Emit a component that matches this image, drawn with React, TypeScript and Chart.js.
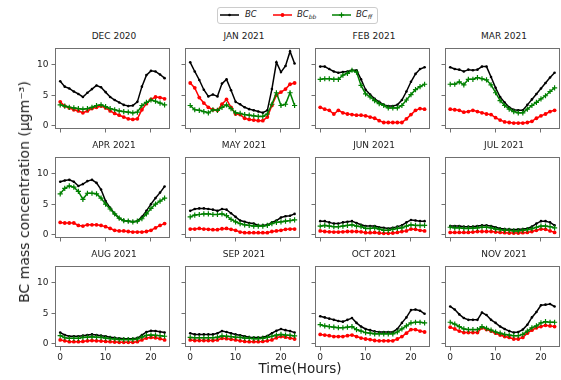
import React, { useEffect, useRef } from 'react';
import { Chart, registerables } from 'chart.js';
Chart.register(...registerables);

const HOURS = [0, 1, 2, 3, 4, 5, 6, 7, 8, 9, 10, 11, 12, 13, 14, 15, 16, 17, 18, 19, 20, 21, 22, 23];
const X_TICKS = [0, 10, 20];
const Y_TICKS = [0, 5, 10];
const MONTHS = ['DEC 2020', 'JAN 2021', 'FEB 2021', 'MAR 2021', 'APR 2021', 'MAY 2021', 'JUN 2021', 'JUL 2021', 'AUG 2021', 'SEP 2021', 'OCT 2021', 'NOV 2021'];

const DEC_BC = [7.3, 6.4, 6.1, 5.6, 5.2, 4.7, 5.4, 6.0, 6.6, 6.3, 5.5, 4.7, 4.2, 3.8, 3.4, 3.2, 3.3, 3.9, 6.4, 8.3, 9.0, 8.9, 8.4, 7.8];
const DEC_BB = [3.9, 3.2, 2.9, 2.6, 2.4, 2.1, 2.4, 2.8, 3.0, 3.2, 2.9, 2.4, 2.0, 1.7, 1.4, 1.1, 1.0, 1.1, 2.6, 3.6, 4.3, 4.7, 4.6, 4.4];
const DEC_FF = [3.4, 3.2, 3.0, 2.9, 2.8, 2.7, 2.8, 3.0, 3.3, 3.4, 3.1, 2.8, 2.6, 2.4, 2.3, 2.2, 2.1, 2.2, 3.3, 3.8, 4.2, 4.0, 3.7, 3.4];

const JAN_BC = [10.4, 8.9, 7.5, 5.9, 4.8, 5.1, 4.8, 6.9, 7.6, 5.8, 3.9, 3.5, 3.0, 2.7, 2.5, 2.3, 2.1, 2.5, 6.0, 10.4, 8.8, 9.8, 12.2, 10.2];
const JAN_BB = [7.0, 6.2, 4.6, 3.7, 3.0, 2.6, 2.5, 3.5, 4.3, 3.0, 1.9, 1.8, 1.2, 1.0, 0.9, 0.8, 0.8, 1.4, 3.3, 5.0, 5.5, 6.0, 6.8, 7.0];
const JAN_FF = [3.3, 2.6, 2.5, 2.3, 2.1, 2.6, 2.5, 3.0, 3.4, 2.8, 2.1, 2.0, 1.8, 1.7, 1.6, 1.5, 1.5, 1.9, 3.5, 5.4, 3.3, 3.5, 5.4, 3.3];

const FEB_BC = [9.7, 9.7, 9.3, 8.9, 8.7, 8.8, 8.9, 9.1, 9.1, 7.6, 5.9, 5.1, 4.4, 3.9, 3.4, 3.2, 3.2, 3.4, 4.2, 5.6, 7.2, 8.5, 9.3, 9.6];
const FEB_BB = [3.0, 2.7, 2.5, 1.9, 2.5, 2.1, 1.9, 1.8, 1.7, 1.7, 1.6, 1.4, 1.2, 0.8, 0.5, 0.5, 0.5, 0.5, 0.5, 1.1, 1.8, 2.5, 2.8, 2.7];
const FEB_FF = [7.6, 7.7, 7.7, 7.6, 7.6, 8.3, 8.6, 9.1, 8.8, 6.6, 5.2, 4.7, 4.1, 3.6, 3.3, 2.9, 2.9, 2.9, 3.3, 4.2, 5.1, 5.9, 6.4, 6.8];

const MAR_BC = [9.6, 9.3, 9.2, 8.9, 9.2, 9.1, 9.2, 9.7, 9.7, 8.0, 6.2, 4.7, 3.8, 3.0, 2.6, 2.5, 2.5, 3.4, 4.3, 5.2, 6.1, 7.0, 7.9, 8.7];
const MAR_BB = [2.7, 2.6, 2.5, 2.2, 2.3, 2.5, 2.3, 2.1, 1.9, 1.8, 1.3, 0.9, 0.6, 0.5, 0.4, 0.4, 0.4, 0.5, 0.7, 1.2, 1.6, 1.9, 2.3, 2.5];
const MAR_FF = [6.8, 6.8, 7.2, 6.7, 7.6, 7.6, 7.9, 7.7, 7.5, 6.7, 5.4, 4.1, 3.3, 2.7, 2.3, 2.1, 2.1, 2.7, 3.3, 3.8, 4.4, 4.9, 5.6, 6.2];

const APR_BC = [8.7, 8.9, 9.0, 8.7, 8.0, 8.3, 8.8, 9.0, 8.5, 7.4, 5.5, 4.4, 3.4, 2.7, 2.3, 2.2, 2.1, 2.2, 2.9, 3.9, 5.0, 6.0, 6.9, 7.9];
const APR_BB = [2.0, 1.9, 1.9, 1.9, 1.5, 1.4, 1.6, 1.6, 1.6, 1.5, 1.3, 1.0, 0.7, 0.6, 0.6, 0.5, 0.4, 0.4, 0.4, 0.5, 0.7, 1.1, 1.5, 1.8];
const APR_FF = [6.7, 7.6, 8.0, 7.8, 7.1, 5.8, 6.8, 6.8, 6.7, 6.0, 5.0, 4.2, 3.4, 2.7, 2.3, 2.2, 2.1, 2.2, 2.6, 3.4, 4.3, 5.0, 5.5, 6.0];

const MAY_BC = [3.9, 4.2, 4.3, 4.3, 4.2, 4.1, 3.9, 4.2, 4.1, 3.5, 2.9, 2.3, 2.1, 1.9, 1.8, 1.5, 1.5, 1.6, 2.0, 2.3, 2.8, 3.0, 3.1, 3.4];
const MAY_BB = [0.9, 0.9, 1.0, 0.9, 0.85, 0.8, 0.8, 0.95, 1.0, 0.85, 0.7, 0.4, 0.3, 0.3, 0.3, 0.3, 0.3, 0.3, 0.5, 0.6, 0.7, 0.85, 0.9, 0.9];
const MAY_FF = [2.9, 3.2, 3.3, 3.4, 3.4, 3.3, 3.3, 3.4, 3.1, 2.5, 2.1, 1.8, 1.6, 1.5, 1.4, 1.4, 1.4, 1.5, 1.8, 2.0, 2.1, 2.2, 2.3, 2.4];

const JUN_BC = [2.2, 2.2, 2.0, 1.8, 1.8, 2.0, 2.1, 2.2, 1.9, 1.6, 1.4, 1.4, 1.4, 1.2, 1.1, 1.0, 1.1, 1.3, 1.5, 2.0, 2.4, 2.3, 2.2, 2.2];
const JUN_BB = [0.6, 0.5, 0.45, 0.4, 0.4, 0.45, 0.5, 0.5, 0.5, 0.45, 0.3, 0.3, 0.35, 0.25, 0.2, 0.2, 0.25, 0.35, 0.5, 0.6, 0.9, 0.85, 0.7, 0.6];
const JUN_FF = [1.4, 1.5, 1.4, 1.3, 1.3, 1.4, 1.5, 1.6, 1.4, 1.3, 1.0, 1.0, 1.1, 0.9, 0.7, 0.7, 0.85, 1.0, 1.1, 1.4, 1.6, 1.5, 1.5, 1.5];

const JUL_BC = [1.4, 1.4, 1.4, 1.3, 1.3, 1.3, 1.4, 1.5, 1.5, 1.4, 1.2, 1.0, 0.9, 0.85, 0.8, 0.85, 0.9, 1.0, 1.3, 1.8, 2.2, 2.2, 2.0, 1.5];
const JUL_BB = [0.35, 0.35, 0.35, 0.35, 0.35, 0.4, 0.5, 0.5, 0.5, 0.5, 0.4, 0.35, 0.3, 0.25, 0.25, 0.25, 0.3, 0.35, 0.5, 0.7, 0.9, 0.85, 0.6, 0.35];
const JUL_FF = [1.2, 1.1, 1.1, 1.0, 1.0, 1.05, 1.1, 1.2, 1.2, 1.1, 0.9, 0.8, 0.7, 0.7, 0.6, 0.6, 0.7, 0.8, 0.95, 1.2, 1.4, 1.4, 1.3, 1.1];

const AUG_BC = [1.8, 1.4, 1.2, 1.2, 1.2, 1.3, 1.4, 1.5, 1.4, 1.3, 1.2, 1.05, 0.95, 0.85, 0.8, 0.8, 0.8, 0.9, 1.4, 1.9, 2.1, 2.05, 1.95, 1.8];
const AUG_BB = [0.6, 0.45, 0.3, 0.3, 0.3, 0.35, 0.45, 0.5, 0.45, 0.4, 0.35, 0.3, 0.25, 0.2, 0.2, 0.2, 0.2, 0.3, 0.6, 0.9, 1.0, 0.95, 0.8, 0.6];
const AUG_FF = [1.3, 0.95, 0.85, 0.85, 0.85, 1.0, 1.05, 1.1, 1.05, 1.0, 0.9, 0.8, 0.75, 0.65, 0.65, 0.65, 0.65, 0.75, 1.05, 1.35, 1.4, 1.35, 1.3, 1.2];

const SEP_BC = [1.7, 1.5, 1.5, 1.5, 1.5, 1.5, 1.7, 2.05, 1.9, 1.7, 1.5, 1.35, 1.2, 1.05, 1.0, 1.0, 1.05, 1.25, 1.7, 2.1, 2.4, 2.2, 2.05, 1.8];
const SEP_BB = [0.6, 0.5, 0.5, 0.5, 0.5, 0.5, 0.6, 0.85, 0.8, 0.7, 0.6, 0.45, 0.35, 0.3, 0.3, 0.3, 0.35, 0.45, 0.6, 0.95, 1.15, 1.05, 0.9, 0.75];
const SEP_FF = [1.0, 0.95, 0.95, 0.95, 0.95, 0.95, 1.05, 1.25, 1.2, 1.15, 1.05, 1.0, 0.9, 0.85, 0.8, 0.8, 0.85, 1.0, 1.2, 1.4, 1.5, 1.4, 1.35, 1.25];

const OCT_BC = [4.5, 4.3, 4.1, 3.9, 3.7, 3.6, 3.9, 4.2, 3.4, 2.8, 2.4, 2.2, 2.0, 1.9, 1.9, 1.9, 1.9, 2.4, 3.4, 4.3, 5.5, 5.6, 5.4, 4.9];
const OCT_BB = [1.5, 1.4, 1.3, 1.15, 1.15, 1.15, 1.3, 1.4, 1.15, 0.9, 0.75, 0.65, 0.5, 0.45, 0.45, 0.45, 0.45, 0.75, 1.15, 1.7, 2.3, 2.3, 2.05, 1.9];
const OCT_FF = [3.1, 2.9, 2.8, 2.7, 2.6, 2.6, 2.7, 2.8, 2.3, 2.05, 1.8, 1.7, 1.6, 1.6, 1.6, 1.6, 1.6, 1.9, 2.4, 2.9, 3.4, 3.5, 3.5, 3.4];

const NOV_BC = [6.1, 5.6, 4.8, 4.2, 3.9, 3.9, 3.9, 5.1, 4.7, 3.9, 3.4, 2.8, 2.4, 2.05, 1.8, 1.9, 2.3, 3.1, 4.3, 5.2, 6.3, 6.4, 6.5, 6.1];
const NOV_BB = [2.7, 2.4, 2.05, 1.8, 1.8, 1.8, 1.8, 2.6, 2.3, 2.05, 1.7, 1.4, 1.15, 1.0, 0.75, 0.75, 1.0, 1.7, 2.2, 2.6, 2.8, 3.0, 2.9, 2.8];
const NOV_FF = [3.5, 3.2, 2.8, 2.4, 2.3, 2.3, 2.3, 2.8, 2.5, 2.2, 1.9, 1.7, 1.5, 1.4, 1.3, 1.3, 1.5, 2.05, 2.6, 2.9, 3.4, 3.6, 3.5, 3.5];

const BC_SERIES = [DEC_BC, JAN_BC, FEB_BC, MAR_BC, APR_BC, MAY_BC, JUN_BC, JUL_BC, AUG_BC, SEP_BC, OCT_BC, NOV_BC];
const BB_SERIES = [DEC_BB, JAN_BB, FEB_BB, MAR_BB, APR_BB, MAY_BB, JUN_BB, JUL_BB, AUG_BB, SEP_BB, OCT_BB, NOV_BB];
const FF_SERIES = [DEC_FF, JAN_FF, FEB_FF, MAR_FF, APR_FF, MAY_FF, JUN_FF, JUL_FF, AUG_FF, SEP_FF, OCT_FF, NOV_FF];

const SERIES_MAIN = ['BC', 'BC', 'BC'];
const SERIES_SUB = ['', 'bb', 'ff'];
const COLORS = ['#000000', '#ff0000', '#008000'];

const FONT = "'DejaVu Sans', sans-serif";
const FRAME = '#707070';
const TXT = '#222222';

const COL_LEFT = [55, 185, 315, 445];
const ROW_TOP = [45, 154, 263];
const AREA_W = 118;
const AREA_H = 84;
const YW = 24;
const XH = 22;
const PT = 2;
const PR = 2;

const framePlugin = {
  id: 'frame',
  afterDraw(chart: any) {
    const { ctx, chartArea } = chart;
    const l = Math.round(chartArea.left);
    const t = Math.round(chartArea.top);
    const r = Math.round(chartArea.right);
    const b = Math.round(chartArea.bottom);
    ctx.save();
    ctx.strokeStyle = FRAME;
    ctx.lineWidth = 1;
    ctx.strokeRect(l + 0.5, t + 0.5, r - l - 1, b - t - 1);
    ctx.restore();
  },
};

function toPoints(arr: number[]) {
  return HOURS.map((h, i) => ({ x: h, y: arr[i] }));
}

function Panel({ idx }: { idx: number }) {
  const ref = useRef<HTMLCanvasElement | null>(null);
  const col = idx % 4;
  const row = Math.floor(idx / 4);
  const left = COL_LEFT[col];
  const top = ROW_TOP[row];
  useEffect(() => {
    if (!ref.current) return;
    const chart = new Chart(ref.current, {
      type: 'line',
      data: {
        datasets: [
          {
            label: 'BC',
            data: toPoints(BC_SERIES[idx]),
            borderColor: COLORS[0],
            backgroundColor: COLORS[0],
            borderWidth: 1.5,
            pointStyle: 'circle',
            pointRadius: 1.3,
            pointBorderWidth: 0,
            order: 2,
          },
          {
            label: 'BC_bb',
            data: toPoints(BB_SERIES[idx]),
            borderColor: COLORS[1],
            backgroundColor: COLORS[1],
            borderWidth: 1.5,
            pointStyle: 'circle',
            pointRadius: 1.9,
            pointBorderWidth: 0,
            order: 1,
          },
          {
            label: 'BC_ff',
            data: toPoints(FF_SERIES[idx]),
            borderColor: COLORS[2],
            backgroundColor: COLORS[2],
            borderWidth: 1.5,
            pointStyle: 'cross',
            pointRadius: 2.6,
            pointBorderWidth: 1.2,
            order: 0,
          },
        ],
      },
      options: {
        animation: false,
        responsive: false,
        devicePixelRatio: 1,
        layout: { padding: { left: 0, top: PT, right: PR, bottom: 0 } },
        plugins: { legend: { display: false }, tooltip: { enabled: false } },
        scales: {
          x: {
            type: 'linear',
            min: -1.15,
            max: 24.15,
            afterBuildTicks: (s: any) => {
              s.ticks = X_TICKS.map((v) => ({ value: v }));
            },
            afterFit: (s: any) => {
              s.height = XH;
              s.paddingLeft = 0;
              s.paddingRight = 0;
            },
            grid: { display: true, drawOnChartArea: false, drawTicks: true, tickLength: 3.5, color: FRAME, lineWidth: 1 },
            border: { display: false },
            ticks: {
              display: row === 2,
              font: { size: 9, family: FONT },
              color: TXT,
              padding: 2,
              maxRotation: 0,
              autoSkip: false,
            },
          },
          y: {
            type: 'linear',
            min: -0.57,
            max: 12.73,
            afterBuildTicks: (s: any) => {
              s.ticks = Y_TICKS.map((v) => ({ value: v }));
            },
            afterFit: (s: any) => {
              s.width = YW;
              s.paddingTop = 0;
              s.paddingBottom = 0;
            },
            grid: { display: true, drawOnChartArea: false, drawTicks: true, tickLength: 3.5, color: FRAME, lineWidth: 1 },
            border: { display: false },
            ticks: {
              display: col === 0,
              font: { size: 9, family: FONT },
              color: TXT,
              padding: 3,
              autoSkip: false,
            },
          },
        },
      },
      plugins: [framePlugin],
    } as any);
    return () => chart.destroy();
  }, [idx]);
  return (
    <>
      <div
        style={{
          position: 'absolute',
          left: left,
          top: top - 14,
          width: AREA_W,
          textAlign: 'center',
          fontSize: 9,
          lineHeight: '11px',
          color: TXT,
          whiteSpace: 'nowrap',
        }}
      >
        {MONTHS[idx]}
      </div>
      <canvas
        ref={ref}
        width={YW + AREA_W + PR}
        height={PT + AREA_H + XH}
        style={{ position: 'absolute', left: left - YW, top: top - PT }}
      />
    </>
  );
}

function LegendItem({ i, x, tx }: { i: number; x: number; tx: number }) {
  const c = COLORS[i];
  return (
    <>
      <svg style={{ position: 'absolute', left: x, top: 10, width: 19, height: 10 }} width={19} height={10}>
        <line x1={0} y1={5} x2={19} y2={5} stroke={c} strokeWidth={1.5} />
        {i === 0 && <circle cx={9.5} cy={5} r={1.3} fill={c} />}
        {i === 1 && <circle cx={9.5} cy={5} r={1.9} fill={c} />}
        {i === 2 && (
          <>
            <line x1={9.5} y1={2.4} x2={9.5} y2={7.6} stroke={c} strokeWidth={1.2} />
            <line x1={6.9} y1={5} x2={12.1} y2={5} stroke={c} strokeWidth={1.2} />
          </>
        )}
      </svg>
      <div
        style={{
          position: 'absolute',
          left: tx,
          top: 8,
          fontSize: 8.5,
          lineHeight: '12px',
          fontStyle: 'italic',
          color: TXT,
          whiteSpace: 'nowrap',
        }}
      >
        {SERIES_MAIN[i]}
        {SERIES_SUB[i] && <sub style={{ fontSize: 6, verticalAlign: '-2px' }}>{SERIES_SUB[i]}</sub>}
      </div>
    </>
  );
}

export default function App() {
  return (
    <div
      style={{
        position: 'fixed',
        left: 0,
        top: 0,
        width: 561,
        height: 380,
        overflow: 'hidden',
        background: '#ffffff',
        fontFamily: FONT,
      }}
    >
      <div
        style={{
          position: 'absolute',
          left: 217,
          top: 7,
          width: 161,
          height: 17,
          border: '1px solid #cccccc',
          borderRadius: 3,
          boxSizing: 'border-box',
        }}
      />
      <LegendItem i={0} x={220} tx={245} />
      <LegendItem i={1} x={273} tx={297} />
      <LegendItem i={2} x={332} tx={356} />
      {MONTHS.map((m, idx) => (
        <Panel key={m} idx={idx} />
      ))}
      <div
        style={{
          position: 'absolute',
          left: 24,
          top: 192,
          transform: 'translate(-50%, -50%) rotate(-90deg)',
          fontSize: 14,
          color: TXT,
          whiteSpace: 'nowrap',
        }}
      >
        BC mass concentration (μgm⁻³)
      </div>
      <div
        style={{
          position: 'absolute',
          left: 300,
          top: 368,
          transform: 'translate(-50%, -50%)',
          fontSize: 13.5,
          color: TXT,
          whiteSpace: 'nowrap',
        }}
      >
        Time(Hours)
      </div>
    </div>
  );
}
